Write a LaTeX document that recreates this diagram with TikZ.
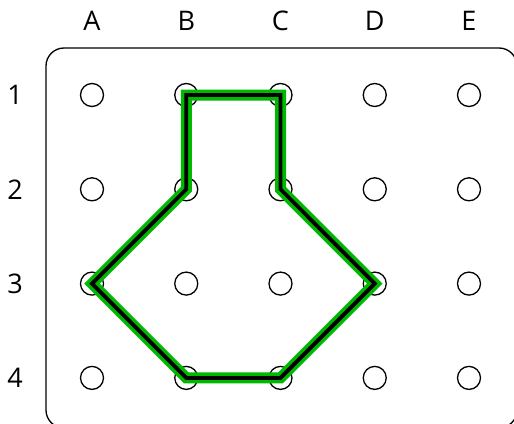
\documentclass[tikz,border=0pt]{standalone}
\usepackage{fontspec}
\setmainfont{Open Sans}
\usetikzlibrary{calc}
\definecolor{band}{RGB}{0,184,0}
\begin{document}
\begin{tikzpicture}[
  x=1pt,y=-1pt,
  peg/.style={circle,draw,line width=1.3pt,minimum size=23pt,inner sep=0pt},
  lbl/.style={font=\fontsize{27}{27}\selectfont,inner sep=0pt},
  board/.style={draw,line width=1.3pt,rounded corners=18pt}
]
\useasboundingbox (0,0) rectangle (514,423);
% board
\draw[board] (46,48) rectangle (517,428);
% pegs and labels
\foreach \c [count=\i] in {A,B,C,D,E}{
  \node[lbl] (col\c) at ({92+94.25*(\i-1)},21) {\c};
  \foreach \r in {1,2,3,4}
    \node[peg] (\c\r) at ({92+94.25*(\i-1)},{95+94.3*(\r-1)}) {};
}
\foreach \r in {1,2,3,4}
  \node[lbl] (row\r) at (15,{95+94.3*(\r-1)}) {\r};
% rubber band
\draw[band,line width=11pt] (B1.center) -- (C1.center) -- (C2.center) -- (D3.center)
  -- (C4.center) -- (B4.center) -- (A3.center) -- (B2.center) -- cycle;
\draw[line width=3.8pt] (B1.center) -- (C1.center) -- (C2.center) -- (D3.center)
  -- (C4.center) -- (B4.center) -- (A3.center) -- (B2.center) -- cycle;
\end{tikzpicture}
\end{document}
